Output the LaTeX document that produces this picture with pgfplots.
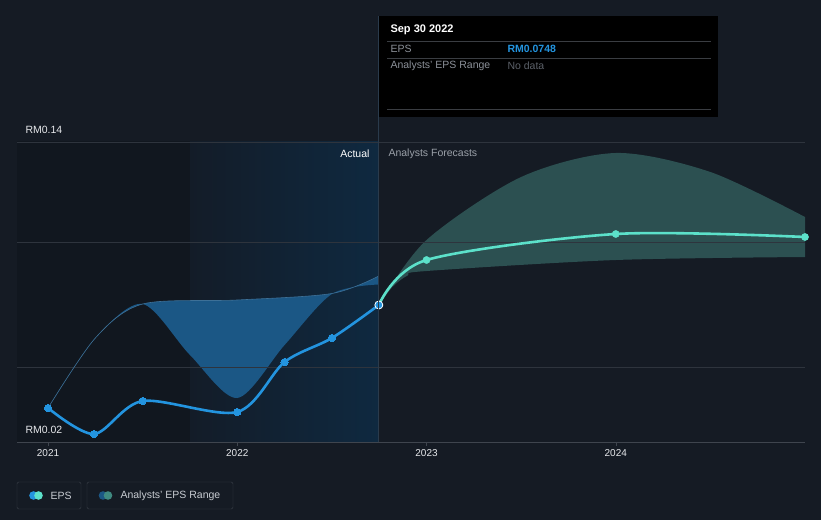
\documentclass[border=0pt]{standalone}
\usepackage{pgfplots}
\pgfplotsset{compat=1.18}
\usepgfplotslibrary{fillbetween}
\usepackage{fontspec}
\setmainfont{Liberation Sans}
\definecolor{bg}{HTML}{151B24}
\definecolor{darkreg}{HTML}{11171F}
\definecolor{hlA}{HTML}{131C28}
\definecolor{hlB}{HTML}{0F2940}
\definecolor{gridc}{HTML}{2E343D}
\definecolor{axisgray}{HTML}{3F454E}
\definecolor{ticktext}{HTML}{E6E8EB}
\definecolor{epsblue}{HTML}{2394DF}
\definecolor{epsteal}{HTML}{5CE1CA}
\definecolor{rangeblue}{HTML}{1B5785}
\definecolor{rangeteal}{HTML}{2C5051}
\definecolor{vline}{HTML}{2A3B4C}
\definecolor{ttline}{HTML}{3A3D42}
\definecolor{ttgray}{HTML}{8C9199}
\definecolor{ttdark}{HTML}{5C6169}
\definecolor{fcgray}{HTML}{9AA0A8}
\definecolor{legborder}{HTML}{3A4049}
\definecolor{legtext}{HTML}{C8CCD2}
\pgfdeclarehorizontalshading{bgshade}{100bp}{color(0bp)=(darkreg); color(35.92bp)=(darkreg); color(35.94bp)=(hlA); color(47.94bp)=(hlB); color(47.96bp)=(bg); color(100bp)=(bg)}
\pgfplotstableread{
x y
2021.000 0.0336
2021.243 0.0232
2021.500 0.0364
2022.000 0.0320
2022.250 0.0520
2022.500 0.0616
2022.748 0.0748
}\epspast
\pgfplotstableread{
x y
2022.748 0.0748
2023.000 0.0928
2024.000 0.1032
2025.000 0.1020
}\epsfc
\pgfplotstableread{
x y
2021.000 0.0336
2021.250 0.0616
2021.500 0.0752
2022.000 0.0768
2022.500 0.0794
2022.748 0.0864
}\pastup
\pgfplotstableread{
x y
2021.000 0.0336
2021.250 0.0616
2021.500 0.0752
2021.750 0.0548
2022.000 0.0376
2022.250 0.0588
2022.500 0.0792
2022.748 0.0830
}\pastlo
\pgfplotstableread{
x y
2022.748 0.0748
2023.000 0.1008
2023.500 0.1260
2024.000 0.1356
2024.500 0.1280
2025.000 0.1100
}\fcup
\pgfplotstableread{
x y
2022.748 0.0748
2022.820 0.0820
2022.900 0.0866
2023.000 0.0884
2024.000 0.0928
2025.000 0.0940
}\fclo
\pagecolor{bg}
\begin{document}
\begin{tikzpicture}[x=1pt,y=1pt]
\path (0,0) rectangle (821,520);
\begin{axis}[at={(17pt,78pt)}, anchor=south west, scale only axis,
  width=788pt, height=300pt,
  xmin=2020.836, xmax=2025, ymin=0.02, ymax=0.14,
  axis background/.style={shade, shading=bgshade},
  axis x line*=bottom, axis y line=none,
  x axis line style={draw=axisgray,-},
  xtick={2021,2022,2023,2024}, xticklabels={2021,2022,2023,2024},
  ytick=\empty, tick align=outside, major tick length=4pt,
  xtick style={draw=axisgray},
  xticklabel style={font=\fontsize{10}{12}\selectfont, text=ticktext},
  ]
\draw[gridc] (axis cs:2020.836,0.05) -- (axis cs:2025,0.05);
\draw[gridc] (axis cs:2020.836,0.10) -- (axis cs:2025,0.10);
\draw[gridc] (axis cs:2020.836,0.14) -- (axis cs:2025,0.14);
% past range
\addplot[name path=pu, smooth, draw=rangeblue!85, line width=0.6pt] table {\pastup};
\addplot[name path=pl, smooth, draw=none] table {\pastlo};
\addplot[fill=rangeblue, draw=none] fill between[of=pu and pl];
% forecast range
\addplot[name path=fu, smooth, draw=none] table {\fcup};
\addplot[name path=fl, smooth, draw=none] table {\fclo};
\addplot[fill=rangeteal, draw=none] fill between[of=fu and fl];
% EPS lines
\addplot[smooth, epsblue, line width=2.6pt, mark=*, mark size=3.6pt, mark options={fill=epsblue, draw=epsblue, line width=0pt}] table {\epspast};
\addplot[smooth, epsteal, line width=2.6pt] table {\epsfc};
\addplot[only marks, mark=*, mark size=3.6pt, mark options={fill=epsteal, draw=epsteal}] table[skip first n=1] {\epsfc};
\addplot[only marks, mark=*, mark size=4pt, mark options={fill=epsblue, draw=white, line width=0.8pt}] coordinates {(2022.748,0.0748)};
\end{axis}
% tooltip line
\draw[vline, line width=1pt] (378,78) -- (378,504);
% tooltip
\fill[black] (379,403) rectangle (718,504);
\node[anchor=west, text=white, font=\fontsize{11}{13}\selectfont\bfseries] at (387,490) {Sep 30 2022};
\draw[ttline] (387,479) -- (711,479);
\node[anchor=west, text=ttgray, font=\fontsize{10.5}{12}\selectfont] at (387,471.5) {EPS};
\node[anchor=west, text=epsblue, font=\fontsize{10.5}{12}\selectfont\bfseries] at (504,471.5) {RM0.0748};
\draw[ttline] (387,462) -- (711,462);
\node[anchor=west, text=ttgray, font=\fontsize{10.5}{12}\selectfont] at (387,454) {Analysts' EPS Range};
\node[anchor=west, text=ttdark, font=\fontsize{10.5}{12}\selectfont] at (504,454) {No data};
\draw[ttline] (387,411) -- (711,411);
% labels
\node[anchor=west, text=ticktext, font=\fontsize{10.5}{12}\selectfont] at (22,390) {RM0.14};
\node[anchor=west, text=ticktext, font=\fontsize{10.5}{12}\selectfont] at (22,90) {RM0.02};
\node[anchor=east, text=white, font=\fontsize{10.5}{12}\selectfont] at (373,366) {Actual};
\node[anchor=west, text=fcgray, font=\fontsize{10.5}{12}\selectfont] at (385,366) {Analysts Forecasts};
% legend
\draw[legborder, rounded corners=1.5pt] (17,11) rectangle (81,38);
\fill[epsblue] (33.5,24.5) circle (4.3);
\fill[epsteal] (38.5,24.5) circle (4.3);
\node[anchor=west, text=legtext, font=\fontsize{10.5}{12}\selectfont] at (47,24.5) {EPS};
\draw[legborder, rounded corners=1.5pt] (87,11) rectangle (233,38);
\fill[rangeblue] (103,24.5) circle (4.3);
\fill[rangeteal!60!epsteal] (108,24.5) circle (4.3);
\node[anchor=west, text=legtext, font=\fontsize{10.5}{12}\selectfont] at (117,24.5) {Analysts' EPS Range};
\end{tikzpicture}
\end{document}
